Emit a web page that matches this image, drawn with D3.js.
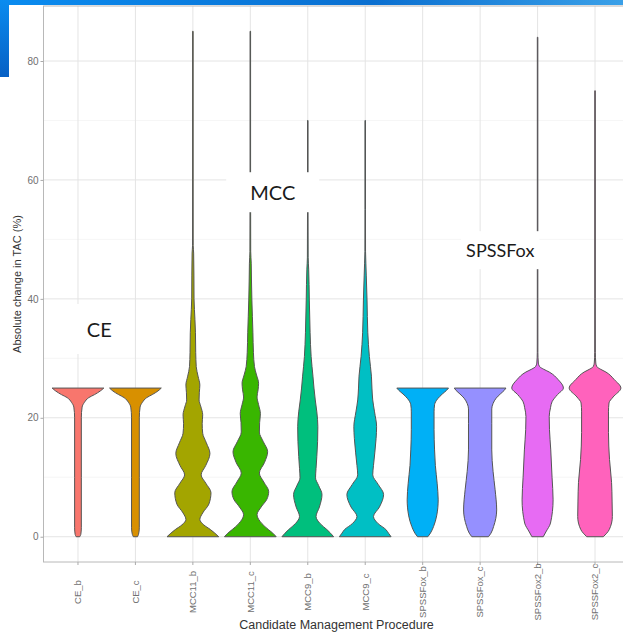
<!DOCTYPE html>
<html>
<head>
<meta charset="utf-8">
<script src="https://cdn.jsdelivr.net/npm/d3@7"></script>
<style>
  body { margin: 0; background: #fff; }
</style>
</head>
<body>
<svg id="chart"></svg>
<script>
// categories on the x axis
const categories = ["CE_b", "CE_c", "MCC11_b", "MCC11_c", "MCC9_b", "MCC9_c",
  "SPSSFox_b", "SPSSFox_c", "SPSSFox2_b", "SPSSFox2_c"];

// violin outlines: [absolute change in TAC (%), relative width 0..1]
const ceB = [[0, 0.07], [0.4, 0.11], [1.5, 0.13], [10, 0.13], [20, 0.13], [21.8, 0.16], [22.6, 0.25],
  [23.4, 0.42], [23.9, 0.64], [24.5, 0.86], [25, 1]];
const ceC = [[0, 0.08], [0.4, 0.12], [1.5, 0.15], [10, 0.15], [20, 0.15], [21.8, 0.18], [22.6, 0.27],
  [23.4, 0.44], [23.9, 0.65], [24.5, 0.87], [25, 1]];
const mcc11B = [[0, 1], [0.6, 0.85], [1.2, 0.68], [2, 0.42], [2.9, 0.27], [4, 0.38], [5.5, 0.62], [7.4, 0.7],
  [9, 0.5], [10.4, 0.32], [12, 0.5], [14, 0.66], [15.8, 0.52], [17.4, 0.38], [19, 0.36], [20.5, 0.38],
  [22, 0.3], [23, 0.24], [24.3, 0.25], [25.5, 0.27], [27, 0.2], [28.6, 0.13], [31, 0.11], [34.3, 0.1],
  [36.5, 0.08], [38.2, 0.06], [40, 0.045], [44, 0.04], [47.7, 0.03], [49, 0.012], [60, 0.01], [85, 0.01]];
const mcc11C = [[0, 1], [0.6, 0.87], [1.2, 0.7], [2.2, 0.45], [3.7, 0.26], [5, 0.42], [6.3, 0.64], [7.6, 0.71],
  [9.2, 0.52], [10.7, 0.35], [12.5, 0.55], [14.3, 0.67], [16, 0.5], [17.6, 0.35], [19.2, 0.36], [20.7, 0.39],
  [22.2, 0.32], [23.5, 0.26], [24.7, 0.3], [25.8, 0.32], [27.2, 0.24], [28.6, 0.16], [31, 0.12], [34.3, 0.1],
  [37, 0.08], [39.8, 0.06], [43, 0.045], [46, 0.035], [48, 0.015], [60, 0.01], [85, 0.01]];
const mcc9B = [[0, 1], [0.6, 0.88], [1.2, 0.74], [2.2, 0.48], [3.4, 0.32], [5, 0.45], [7.1, 0.55], [8.6, 0.42],
  [9.9, 0.3], [11.5, 0.32], [13.5, 0.35], [16, 0.38], [18.5, 0.39], [21, 0.35], [23, 0.29], [25, 0.24],
  [27, 0.2], [30.3, 0.13], [34.3, 0.09], [39.8, 0.06], [42.4, 0.05], [45, 0.035], [47, 0.015], [55, 0.01], [70, 0.01]];
const mcc9C = [[0, 1], [0.6, 0.9], [1.2, 0.8], [2.2, 0.5], [3.4, 0.32], [5, 0.55], [7.1, 0.71], [8.8, 0.5],
  [10.4, 0.29], [12, 0.32], [14.1, 0.37], [16.5, 0.42], [18.5, 0.44], [21, 0.36], [23, 0.29], [25, 0.26],
  [27, 0.24], [30.3, 0.16], [34.3, 0.1], [39.8, 0.07], [44, 0.04], [46, 0.025], [48, 0.012], [55, 0.01], [70, 0.01]];
const spssB = [[0, 0.2], [0.6, 0.3], [1.7, 0.42], [3.5, 0.54], [6.2, 0.6], [9, 0.56], [12, 0.49], [14.6, 0.46],
  [18, 0.44], [21, 0.44], [22.2, 0.46], [23.2, 0.58], [24, 0.76], [24.6, 0.92], [25, 1]];
const spssC = [[0, 0.32], [0.6, 0.42], [1.7, 0.52], [4.5, 0.64], [7.9, 0.58], [11, 0.5], [14.6, 0.45], [19, 0.45],
  [21.5, 0.45], [22.4, 0.5], [23.3, 0.62], [24, 0.78], [24.6, 0.93], [25, 1]];
const spss2B = [[0, 0.22], [0.8, 0.32], [2.3, 0.5], [6.2, 0.6], [10, 0.56], [14.6, 0.51], [18, 0.46], [20.2, 0.45],
  [21.7, 0.5], [22.7, 0.56], [23.9, 0.77], [25, 1], [26.4, 0.8], [27.7, 0.45], [28.2, 0.22], [28.6, 0.08],
  [29.2, 0.03], [31, 0.012], [40, 0.01], [84, 0.01]];
const spss2C = [[0, 0.32], [1.2, 0.55], [3.4, 0.67], [6, 0.66], [9.1, 0.64], [13, 0.56], [17.5, 0.52], [21, 0.52],
  [22.5, 0.54], [23.5, 0.7], [25, 1], [26.4, 0.75], [27.7, 0.42], [28.2, 0.2], [28.6, 0.07], [29.2, 0.03],
  [31, 0.012], [40, 0.01], [75, 0.01]];
const profiles = [ceB, ceC, mcc11B, mcc11C, mcc9B, mcc9C, spssB, spssC, spss2B, spss2C];

// y ticks
const majorTicks = [0, 20, 40, 60, 80];
const minorTicks = [10, 30, 50, 70];

// group labels: text, x position (category index, 1-based), y value
const groupLabels = [
  { text: "CE", pos: 1.37, value: 34.8, size: 20, padX: 12, padY: 16 },
  { text: "MCC", pos: 4.39, value: 57.8, size: 20, padX: 24, padY: 11 },
  { text: "SPSSFox", pos: 8.35, value: 48.1, size: 18, padX: 5, padY: 11 }
];

const colors = ["#F8766D", "#D89000", "#A3A500", "#39B600", "#00BF7D", "#00BFC4",
  "#00B0F6", "#9590FF", "#E76BF3", "#FF62BC"];

const W = 623, H = 633;
const panel = { left: 43.5, right: 629.5, top: 6, bottom: 562 };

const svg = d3.select("#chart").attr("width", W).attr("height", H);

const x = d3.scaleBand()
  .domain(categories)
  .range([panel.left, panel.right])
  .paddingInner(0)
  .paddingOuter(0.1);

const y = d3.scaleLinear()
  .domain([-4.25, 89.25])
  .range([panel.bottom, panel.top]);

const half = d3.scaleLinear().domain([0, 1]).range([0, x.bandwidth() * 0.9 / 2]);
const cx = c => x(c) + x.bandwidth() / 2;
const idx = d3.scaleLinear().domain([1, categories.length])
  .range([cx(categories[0]), cx(categories[categories.length - 1])]);

// slide decoration (blue bars from the presentation it was cut from)
const defs = svg.append("defs");
const grad = defs.append("linearGradient").attr("id", "topbar");
grad.append("stop").attr("offset", "0%").attr("stop-color", "#0a8cf0");
grad.append("stop").attr("offset", "60%").attr("stop-color", "#0a6fd0");
grad.append("stop").attr("offset", "100%").attr("stop-color", "#3aa0e8");
const gradL = defs.append("linearGradient").attr("id", "leftbar")
  .attr("x1", 0).attr("x2", 0).attr("y1", 0).attr("y2", 1);
gradL.append("stop").attr("offset", "0%").attr("stop-color", "#0a8cf0");
gradL.append("stop").attr("offset", "100%").attr("stop-color", "#0760c4");

svg.append("rect").attr("x", 0).attr("y", 0).attr("width", W).attr("height", 5).attr("fill", "url(#topbar)");
svg.append("rect").attr("x", 0).attr("y", 0).attr("width", 9).attr("height", 77).attr("fill", "url(#leftbar)");

// grid
const grid = svg.append("g");
grid.selectAll(".minor").data(minorTicks).enter().append("line")
  .attr("x1", panel.left).attr("x2", panel.right)
  .attr("y1", d => y(d)).attr("y2", d => y(d))
  .attr("stroke", "#efefef").attr("stroke-width", 0.6);
grid.selectAll(".major").data(majorTicks).enter().append("line")
  .attr("x1", panel.left).attr("x2", panel.right)
  .attr("y1", d => y(d)).attr("y2", d => y(d))
  .attr("stroke", "#e4e4e4").attr("stroke-width", 1);
grid.selectAll(".vmajor").data(categories).enter().append("line")
  .attr("x1", d => cx(d)).attr("x2", d => cx(d))
  .attr("y1", panel.top).attr("y2", panel.bottom)
  .attr("stroke", "#e4e4e4").attr("stroke-width", 1);

// violins
const area = d3.area()
  .curve(d3.curveMonotoneY)
  .y(d => y(d[0]));

svg.append("g").selectAll("path")
  .data(categories)
  .enter().append("path")
  .attr("d", (c, i) => area
    .x0(d => cx(c) - half(d[1]))
    .x1(d => cx(c) + half(d[1]))(profiles[i]))
  .attr("fill", (c, i) => colors[i])
  .attr("stroke", "#555")
  .attr("stroke-width", 1);

// panel border
svg.append("rect")
  .attr("x", panel.left).attr("y", panel.top)
  .attr("width", panel.right - panel.left).attr("height", panel.bottom - panel.top)
  .attr("fill", "none").attr("stroke", "#b8b8b8").attr("stroke-width", 1);

// axes
const yAxis = svg.append("g")
  .attr("transform", `translate(${panel.left},0)`)
  .call(d3.axisLeft(y).tickValues(majorTicks).tickSize(3).tickPadding(2));
yAxis.select(".domain").remove();
yAxis.selectAll("line").attr("stroke", "#aaa");
yAxis.selectAll("text").attr("fill", "#707070").style("font-family", "Liberation Sans, Arial, sans-serif").style("font-size", "10px");

// x tick labels are rotated and centred on a common line, as ggplot does with hjust = 0.5
const xAxis = svg.append("g")
  .attr("transform", `translate(0,${panel.bottom})`)
  .call(d3.axisBottom(x).tickSize(3));
xAxis.select(".domain").remove();
xAxis.selectAll("line").attr("stroke", "#aaa");
xAxis.selectAll("text")
  .attr("fill", "#707070")
  .style("font-family", "Liberation Sans, Arial, sans-serif")
  .style("font-size", "9.5px")
  .attr("text-anchor", "middle")
  .attr("transform", "rotate(-90)")
  .attr("x", -30)
  .attr("y", 0)
  .attr("dy", "0.35em");

// axis titles
svg.append("text")
  .attr("x", (panel.left + panel.right) / 2)
  .attr("y", 629)
  .attr("text-anchor", "middle")
  .style("font-family", "Liberation Sans, Arial, sans-serif")
  .style("font-size", "12.5px")
  .attr("fill", "#333")
  .text("Candidate Management Procedure");

svg.append("text")
  .attr("transform", `translate(21,${(panel.top + panel.bottom) / 2}) rotate(-90)`)
  .attr("text-anchor", "middle")
  .style("font-family", "Liberation Sans, Arial, sans-serif")
  .style("font-size", "11px")
  .attr("fill", "#333")
  .text("Absolute change in TAC (%)");

// group labels on white boxes
const lab = svg.append("g").selectAll("g")
  .data(groupLabels)
  .enter().append("g")
  .attr("transform", d => `translate(${idx(d.pos)},${y(d.value)})`);

lab.append("rect").attr("fill", "#fff");
lab.append("text")
  .attr("text-anchor", "middle")
  .attr("dy", "0.36em")
  .style("font-family", "Lato, 'Open Sans', sans-serif")
  .style("font-size", d => d.size + "px")
  .attr("fill", "#1a1a1a")
  .text(d => d.text);

lab.each(function(d) {
  const g = d3.select(this);
  const bb = g.select("text").node().getBBox();
  g.select("rect")
    .attr("x", bb.x - d.padX).attr("y", bb.y - d.padY + 3)
    .attr("width", bb.width + 2 * d.padX).attr("height", bb.height + 2 * d.padY - 6);
});
</script>
</body>
</html>
